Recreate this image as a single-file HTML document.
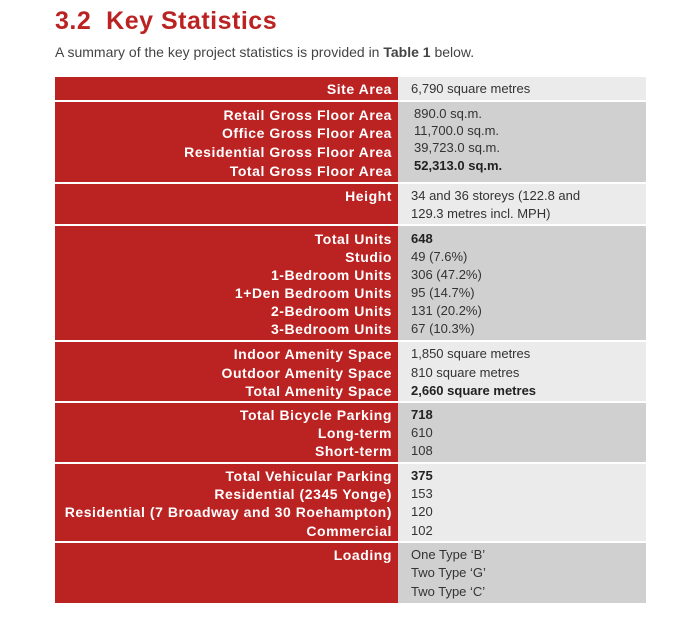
<!DOCTYPE html>
<html><head><style>
body{margin:0;width:691px;height:631px;background:#fff;font-family:"Liberation Sans",Arial,sans-serif;position:relative;overflow:hidden}
.h{position:absolute;left:55px;top:7px;font-size:25px;font-weight:bold;color:#bb2222;letter-spacing:0.5px}
.s{position:absolute;left:55px;top:44px;font-size:14px;color:#444}
.r{position:absolute;left:55px;width:591px}
.r .a{position:absolute;left:0;top:0;bottom:0;width:343px;background:#bb2222}
.r .b{position:absolute;left:343px;right:0;top:0;bottom:0}
.l{position:absolute;right:299px;font-size:14px;letter-spacing:0.55px;font-weight:bold;color:#fff;line-height:18px;white-space:nowrap}
.v{position:absolute;left:411px;font-size:13px;color:#333;line-height:18px;white-space:nowrap}
.v b{color:#222}
</style></head><body>
<div class="h">3.2&nbsp;&nbsp;Key Statistics</div>
<div class="s">A summary of the key project statistics is provided in <b>Table 1</b> below.</div>

<div class="r" style="top:77px;height:23px"><div class="a"></div><div class="b" style="background:#ebebeb"></div></div>
<div class="r" style="top:102px;height:80px"><div class="a"></div><div class="b" style="background:#d0d0d0"></div></div>
<div class="r" style="top:184px;height:40px"><div class="a"></div><div class="b" style="background:#ebebeb"></div></div>
<div class="r" style="top:226px;height:114px"><div class="a"></div><div class="b" style="background:#d0d0d0"></div></div>
<div class="r" style="top:342px;height:59px"><div class="a"></div><div class="b" style="background:#ebebeb"></div></div>
<div class="r" style="top:403px;height:59px"><div class="a"></div><div class="b" style="background:#d0d0d0"></div></div>
<div class="r" style="top:464px;height:77px"><div class="a"></div><div class="b" style="background:#ebebeb"></div></div>
<div class="r" style="top:543px;height:60px"><div class="a"></div><div class="b" style="background:#d0d0d0"></div></div>

<div class="l" style="top:80px">Site Area</div><div class="v" style="top:80px">6,790 square metres</div>

<div class="l" style="top:106px">Retail Gross Floor Area</div>
<div class="l" style="top:124px">Office Gross Floor Area</div>
<div class="l" style="top:143px">Residential Gross Floor Area</div>
<div class="l" style="top:162px">Total Gross Floor Area</div>
<div class="v" style="top:105px;left:414px">890.0 sq.m.</div>
<div class="v" style="top:122px;left:414px">11,700.0 sq.m.</div>
<div class="v" style="top:139px;left:414px">39,723.0 sq.m.</div>
<div class="v" style="top:157px;left:414px"><b>52,313.0 sq.m.</b></div>

<div class="l" style="top:187px">Height</div>
<div class="v" style="top:187px">34 and 36 storeys (122.8 and</div>
<div class="v" style="top:205px">129.3 metres incl. MPH)</div>

<div class="l" style="top:230px">Total Units</div><div class="v" style="top:230px"><b>648</b></div>
<div class="l" style="top:248px">Studio</div><div class="v" style="top:248px">49 (7.6%)</div>
<div class="l" style="top:266px">1-Bedroom Units</div><div class="v" style="top:266px">306 (47.2%)</div>
<div class="l" style="top:284px">1+Den Bedroom Units</div><div class="v" style="top:284px">95 (14.7%)</div>
<div class="l" style="top:302px">2-Bedroom Units</div><div class="v" style="top:302px">131 (20.2%)</div>
<div class="l" style="top:320px">3-Bedroom Units</div><div class="v" style="top:320px">67 (10.3%)</div>

<div class="l" style="top:345px">Indoor Amenity Space</div><div class="v" style="top:345px">1,850 square metres</div>
<div class="l" style="top:364px">Outdoor Amenity Space</div><div class="v" style="top:364px">810 square metres</div>
<div class="l" style="top:382px">Total Amenity Space</div><div class="v" style="top:382px"><b>2,660 square metres</b></div>

<div class="l" style="top:406px">Total Bicycle Parking</div><div class="v" style="top:406px"><b>718</b></div>
<div class="l" style="top:424px">Long-term</div><div class="v" style="top:424px">610</div>
<div class="l" style="top:442px">Short-term</div><div class="v" style="top:442px">108</div>

<div class="l" style="top:467px">Total Vehicular Parking</div><div class="v" style="top:467px"><b>375</b></div>
<div class="l" style="top:485px">Residential (2345 Yonge)</div><div class="v" style="top:485px">153</div>
<div class="l" style="top:503px">Residential (7 Broadway and 30 Roehampton)</div><div class="v" style="top:503px">120</div>
<div class="l" style="top:522px">Commercial</div><div class="v" style="top:522px">102</div>

<div class="l" style="top:546px">Loading</div>
<div class="v" style="top:546px">One Type ‘B’</div>
<div class="v" style="top:564px">Two Type ‘G’</div>
<div class="v" style="top:583px">Two Type ‘C’</div>
</body></html>
